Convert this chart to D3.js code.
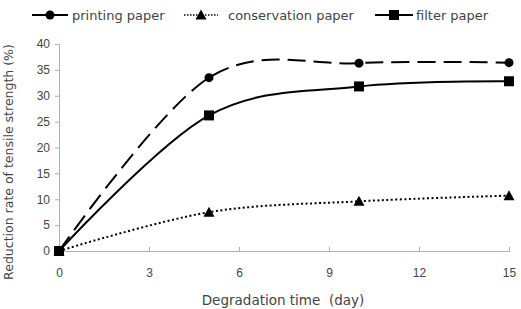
<!DOCTYPE html>
<html><head><meta charset="utf-8">
<script src="https://cdn.jsdelivr.net/npm/d3@7"></script>
<style>body{margin:0;background:#fff}svg{display:block}text{font-family:"DejaVu Sans",sans-serif}</style>
</head><body>
<svg id="c" width="521" height="309"></svg>
<script>
const days = [0, 5, 10, 15];
const seriesNames = ["printing paper", "conservation paper", "filter paper"];
const printing = [0, 33.5, 36.3, 36.4];
const conservation = [0, 7.5, 9.6, 10.7];
const filter = [0, 26.2, 31.8, 32.8];
const xTicks = [0, 3, 6, 9, 12, 15];
const yTicks = [0, 5, 10, 15, 20, 25, 30, 35, 40];

const svg = d3.select("#c");
const x = d3.scaleLinear().domain([0, 15]).range([59, 509]);
const y = d3.scaleLinear().domain([0, 40]).range([251, 44]);
const axisColor = "#b0b0b0", textColor = "#444";

const ya = svg.append("g").attr("transform", "translate(59,0)")
  .call(d3.axisLeft(y).tickValues(yTicks).tickSize(4).tickPadding(5));
const xa = svg.append("g").attr("transform", "translate(0,251)")
  .call(d3.axisBottom(x).tickValues(xTicks).tickSize(-4).tickPadding(17));
[ya, xa].forEach(a => {
  a.select(".domain").attr("stroke", axisColor);
  a.selectAll(".tick line").attr("stroke", axisColor);
  a.selectAll("text").attr("fill", textColor).style("font-size", "12px")
    .style("font-family", "'Liberation Sans', Arial, sans-serif");
});

svg.append("text").attr("transform", "translate(13,162) rotate(-90)")
  .attr("text-anchor", "middle").attr("fill", textColor).style("font-size", "12.5px")
  .text("Reduction rate of tensile strength (%)");
svg.append("text").attr("x", 283).attr("y", 305).attr("text-anchor", "middle")
  .attr("fill", textColor).style("font-size", "13.5px").attr("xml:space", "preserve")
  .text("Degradation time  (day)");

const data = [printing, conservation, filter];
const dashes = ["18,8", "2,2.5", null];
const line = d3.line().x((d, i) => x(days[i])).y(d => y(d)).curve(d3.curveCardinal.tension(0));

function marker(g, kind, cx, cy) {
  if (kind === 0) g.append("circle").attr("cx", cx).attr("cy", cy).attr("r", 4.5).attr("fill", "#000");
  else if (kind === 1) g.append("path").attr("d", `M${cx},${cy-5.5}L${cx+5.5},${cy+4.5}L${cx-5.5},${cy+4.5}Z`).attr("fill", "#000");
  else g.append("rect").attr("x", cx-5).attr("y", cy-5).attr("width", 10).attr("height", 10).attr("fill", "#000");
}

data.forEach((vals, k) => {
  const p = svg.append("path").attr("d", line(vals)).attr("fill", "none")
    .attr("stroke", "#000").attr("stroke-width", 2);
  if (dashes[k]) p.attr("stroke-dasharray", dashes[k]);
  vals.forEach((v, i) => marker(svg, k, x(days[i]), y(v)));
});
marker(svg, 2, x(0), y(0));

const legX = [32, 184, 375];
const legW = [36, 34, 38];
const legT = [72, 228, 416];
seriesNames.forEach((n, k) => {
  const lx = legX[k], ly = 15;
  const l = svg.append("line").attr("x1", lx).attr("x2", lx + legW[k]).attr("y1", ly).attr("y2", ly)
    .attr("stroke", "#000").attr("stroke-width", 2);
  if (k === 1) l.attr("stroke-dasharray", "1.5,1.5").attr("stroke-width", 1.5);
  marker(svg, k, lx + legW[k] / 2, ly);
  svg.append("text").attr("x", legT[k]).attr("y", ly + 4.5).attr("fill", textColor)
    .style("font-size", "13px").text(n);
});
</script>
</body></html>
